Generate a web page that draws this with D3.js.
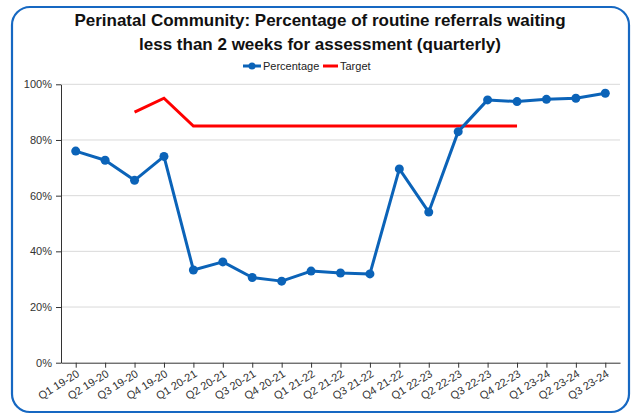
<!DOCTYPE html>
<html><head><meta charset="utf-8">
<script src="https://cdn.jsdelivr.net/npm/d3@7"></script>
<style>body{margin:0;background:#fff;font-family:"Liberation Sans",Arial,sans-serif}</style>
</head><body>
<svg id="c" width="639" height="417"></svg>
<script>
const categories = ["Q1 19-20","Q2 19-20","Q3 19-20","Q4 19-20","Q1 20-21","Q2 20-21","Q3 20-21","Q4 20-21","Q1 21-22","Q2 21-22","Q3 21-22","Q4 21-22","Q1 22-23","Q2 22-23","Q3 22-23","Q4 22-23","Q1 23-24","Q2 23-24","Q3 23-24"];
const percentage = [76.0,72.7,65.5,74.1,33.3,36.2,30.6,29.3,32.9,32.2,31.9,69.6,54.1,83.0,94.4,93.8,94.6,95.0,96.8];
const target = [null,null,90,95,85,85,85,85,85,85,85,85,85,85,85,85,null,null,null];
const yTicks = [0,20,40,60,80,100];
const titleLines = ["Perinatal Community: Percentage of routine referrals waiting","less than 2 weeks for assessment (quarterly)"];

const svg = d3.select("#c");
const blue = "#0b63b8", red = "#ff0000";
svg.append("rect").attr("x",12).attr("y",7).attr("width",617).attr("height",405)
  .attr("rx",18).attr("fill","#fff").attr("stroke","#1668c2").attr("stroke-width",2.2);

const L=61,R=620,T=84.3,B=362.7;
const x = d3.scalePoint().domain(categories).range([L,R]).padding(0.5);
const y = d3.scaleLinear().domain([0,100]).range([B,T]);

svg.append("g").selectAll("line").data(yTicks.filter(d=>d>0)).join("line")
  .attr("x1",L).attr("x2",R).attr("y1",d=>y(d)).attr("y2",d=>y(d))
  .attr("stroke","#d9d9d9").attr("stroke-width",1);

const ya = svg.append("g").attr("transform",`translate(${L},0)`)
  .call(d3.axisLeft(y).tickValues(yTicks).tickFormat(d=>d+"%").tickSize(5).tickSizeOuter(0));
ya.select(".domain").attr("stroke","#333");
ya.selectAll(".tick line").attr("stroke","#333");
ya.selectAll("text").attr("font-size",11).attr("fill","#333").attr("font-family","Liberation Sans, Arial").attr("dx",-1);

const xa = svg.append("g").attr("transform",`translate(0,${B})`)
  .call(d3.axisBottom(x).tickSize(5).tickSizeOuter(0));
xa.select(".domain").attr("stroke","#333");
xa.selectAll(".tick line").attr("stroke","#333");
xa.selectAll("text").attr("font-size",11).attr("fill","#333").attr("font-family","Liberation Sans, Arial")
  .attr("text-anchor","end").attr("dy",0).attr("y",0)
  .attr("transform","translate(4,13) rotate(-32)");

const line = d3.line().defined(d=>d[1]!=null).x(d=>x(d[0])).y(d=>y(d[1]));
svg.append("path").datum(categories.map((c,i)=>[c,target[i]]))
  .attr("d",line).attr("fill","none").attr("stroke",red).attr("stroke-width",3);
svg.append("path").datum(categories.map((c,i)=>[c,percentage[i]]))
  .attr("d",line).attr("fill","none").attr("stroke",blue).attr("stroke-width",3).attr("stroke-linejoin","round");
svg.append("g").selectAll("circle").data(categories.map((c,i)=>[c,percentage[i]])).join("circle")
  .attr("cx",d=>x(d[0])).attr("cy",d=>y(d[1])).attr("r",4.5).attr("fill",blue);

svg.append("g").selectAll("text").data(titleLines).join("text")
  .attr("x",320).attr("y",(d,i)=>26+i*24).attr("text-anchor","middle")
  .attr("font-size",17).attr("font-weight","bold").attr("fill","#111").text(d=>d);

// legend
const lg = svg.append("g").attr("font-size",11).attr("fill","#222");
lg.append("line").attr("x1",243).attr("x2",261).attr("y1",66).attr("y2",66).attr("stroke",blue).attr("stroke-width",3);
lg.append("circle").attr("cx",252).attr("cy",66).attr("r",3.5).attr("fill",blue);
lg.append("text").attr("x",263).attr("y",70).text("Percentage");
lg.append("line").attr("x1",323).attr("x2",338).attr("y1",66).attr("y2",66).attr("stroke",red).attr("stroke-width",3);
lg.append("text").attr("x",340).attr("y",70).text("Target");
</script>
</body></html>
